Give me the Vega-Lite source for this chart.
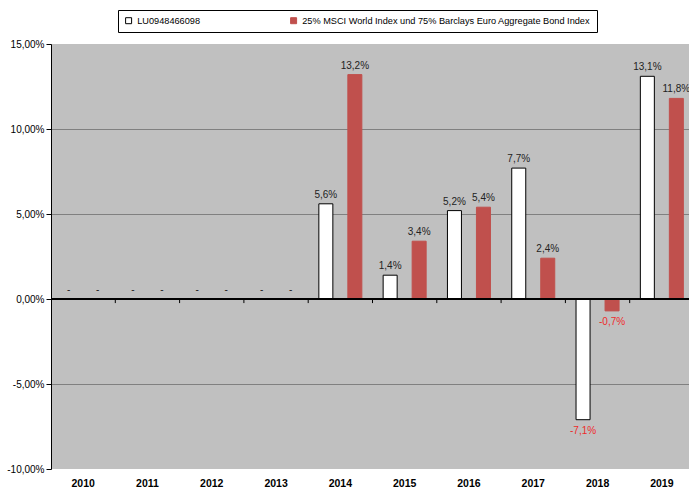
{
  "$schema": "https://vega.github.io/schema/vega-lite/v6.json",
  "autosize": {"type": "none"},
  "padding": {"left": 51, "top": 44, "right": 0, "bottom": 19},
  "width": 638,
  "height": 425,
  "config": {
    "font": "Liberation Sans",
    "view": {"fill": "#C0C0C0", "stroke": null}
  },
  "data": {
    "values": [
      {"year": "2010", "series": "LU0948466098", "value": null, "label": "-"},
      {"year": "2010", "series": "25% MSCI World Index und 75% Barclays Euro Aggregate Bond Index", "value": null, "label": "-"},
      {"year": "2011", "series": "LU0948466098", "value": null, "label": "-"},
      {"year": "2011", "series": "25% MSCI World Index und 75% Barclays Euro Aggregate Bond Index", "value": null, "label": "-"},
      {"year": "2012", "series": "LU0948466098", "value": null, "label": "-"},
      {"year": "2012", "series": "25% MSCI World Index und 75% Barclays Euro Aggregate Bond Index", "value": null, "label": "-"},
      {"year": "2013", "series": "LU0948466098", "value": null, "label": "-"},
      {"year": "2013", "series": "25% MSCI World Index und 75% Barclays Euro Aggregate Bond Index", "value": null, "label": "-"},
      {"year": "2014", "series": "LU0948466098", "value": 5.6, "label": "5,6%"},
      {"year": "2014", "series": "25% MSCI World Index und 75% Barclays Euro Aggregate Bond Index", "value": 13.2, "label": "13,2%"},
      {"year": "2015", "series": "LU0948466098", "value": 1.4, "label": "1,4%"},
      {"year": "2015", "series": "25% MSCI World Index und 75% Barclays Euro Aggregate Bond Index", "value": 3.4, "label": "3,4%"},
      {"year": "2016", "series": "LU0948466098", "value": 5.2, "label": "5,2%"},
      {"year": "2016", "series": "25% MSCI World Index und 75% Barclays Euro Aggregate Bond Index", "value": 5.4, "label": "5,4%"},
      {"year": "2017", "series": "LU0948466098", "value": 7.7, "label": "7,7%"},
      {"year": "2017", "series": "25% MSCI World Index und 75% Barclays Euro Aggregate Bond Index", "value": 2.4, "label": "2,4%"},
      {"year": "2018", "series": "LU0948466098", "value": -7.1, "label": "-7,1%"},
      {"year": "2018", "series": "25% MSCI World Index und 75% Barclays Euro Aggregate Bond Index", "value": -0.7, "label": "-0,7%"},
      {"year": "2019", "series": "LU0948466098", "value": 13.1, "label": "13,1%"},
      {"year": "2019", "series": "25% MSCI World Index und 75% Barclays Euro Aggregate Bond Index", "value": 11.8, "label": "11,8%"}
    ]
  },
  "encoding": {
    "x": {
      "field": "year", "type": "ordinal",
      "scale": {"range": [0, 643], "paddingInner": 0, "paddingOuter": 0},
      "axis": {"title": null, "domain": false, "ticks": false, "labelAngle": 0, "labelFontWeight": "bold", "labelFontSize": 10.5, "labelColor": "#000000", "labelPadding": 9, "grid": false}
    },
    "xOffset": {
      "field": "series", "type": "nominal",
      "scale": {"domain": ["LU0948466098", "25% MSCI World Index und 75% Barclays Euro Aggregate Bond Index"], "paddingInner": 0.517, "paddingOuter": 0.367, "align": 0.5}
    }
  },
  "layer": [
    {
      "transform": [{"filter": "datum.value != null"}],
      "mark": {"type": "bar", "strokeWidth": 1},
      "encoding": {
        "y": {
          "field": "value", "type": "quantitative",
          "scale": {"domain": [-10, 15], "nice": false},
          "axis": {
            "title": null,
            "values": [-10, -5, 0, 5, 10, 15],
            "domainColor": "#000000",
            "tickColor": "#000000",
            "tickSize": 5,
            "labelFontSize": 10,
            "labelColor": "#000000",
            "labelPadding": 2,
            "grid": true,
            "gridColor": "#808080",
            "gridOpacity": {"condition": {"test": "datum.value == 15 || datum.value == -10 || datum.value == 0", "value": 0}, "value": 1},
            "labelExpr": "replace(replace(format(datum.value / 100, '.2%'), '.', ','), '\u2212', '-')"
          }
        },
        "fill": {
          "field": "series", "type": "nominal",
          "scale": {"domain": ["LU0948466098", "25% MSCI World Index und 75% Barclays Euro Aggregate Bond Index"], "range": ["#FFFFFF", "#C0504D"]},
          "legend": {
            "orient": "none", "legendX": 67, "legendY": -34, "direction": "horizontal", "title": null,
            "fillColor": "#FFFFFF", "strokeColor": "#000000", "padding": 6,
            "symbolType": "square", "symbolSize": 36, "symbolStrokeWidth": 1,
            "labelFontSize": 9.2, "labelColor": "#000000", "columnPadding": 87, "labelLimit": 500
          }
        },
        "stroke": {
          "field": "series", "type": "nominal",
          "scale": {"domain": ["LU0948466098", "25% MSCI World Index und 75% Barclays Euro Aggregate Bond Index"], "range": ["#000000", "#C0504D"]},
          "legend": {
            "orient": "none", "legendX": 67, "legendY": -34, "direction": "horizontal", "title": null,
            "fillColor": "#FFFFFF", "strokeColor": "#000000", "padding": 6,
            "symbolType": "square", "symbolSize": 36, "symbolStrokeWidth": 1,
            "labelFontSize": 9.2, "labelColor": "#000000", "columnPadding": 87, "labelLimit": 500
          }
        }
      }
    },
    {
      "mark": {"type": "rule", "color": "#000000", "strokeWidth": 1},
      "encoding": {"y": {"datum": 0, "type": "quantitative"}, "xOffset": null, "x": null}
    },
    {
      "transform": [{"filter": "datum.series == 'LU0948466098' && datum.year != '2010'"}],
      "mark": {"type": "rule", "color": "#000000", "strokeWidth": 1},
      "encoding": {
        "x": {"field": "year", "type": "ordinal", "bandPosition": 0},
        "xOffset": null,
        "y": {"datum": 0, "type": "quantitative"},
        "y2": {"datum": -0.24}
      }
    },
    {
      "transform": [
        {"calculate": "datum.value == null ? 0 : datum.value", "as": "yv"},
        {"filter": "datum.yv >= 0"}
      ],
      "mark": {"type": "text", "baseline": "middle", "align": "center", "dy": -9, "fontSize": 10, "color": "#222222"},
      "encoding": {
        "y": {"field": "yv", "type": "quantitative"},
        "text": {"field": "label"}
      }
    },
    {
      "transform": [{"filter": "datum.value != null && datum.value < 0"}],
      "mark": {"type": "text", "baseline": "middle", "align": "center", "dy": 11, "fontSize": 10, "color": "#EE2B2B"},
      "encoding": {
        "y": {"field": "value", "type": "quantitative"},
        "text": {"field": "label"}
      }
    }
  ]
}
